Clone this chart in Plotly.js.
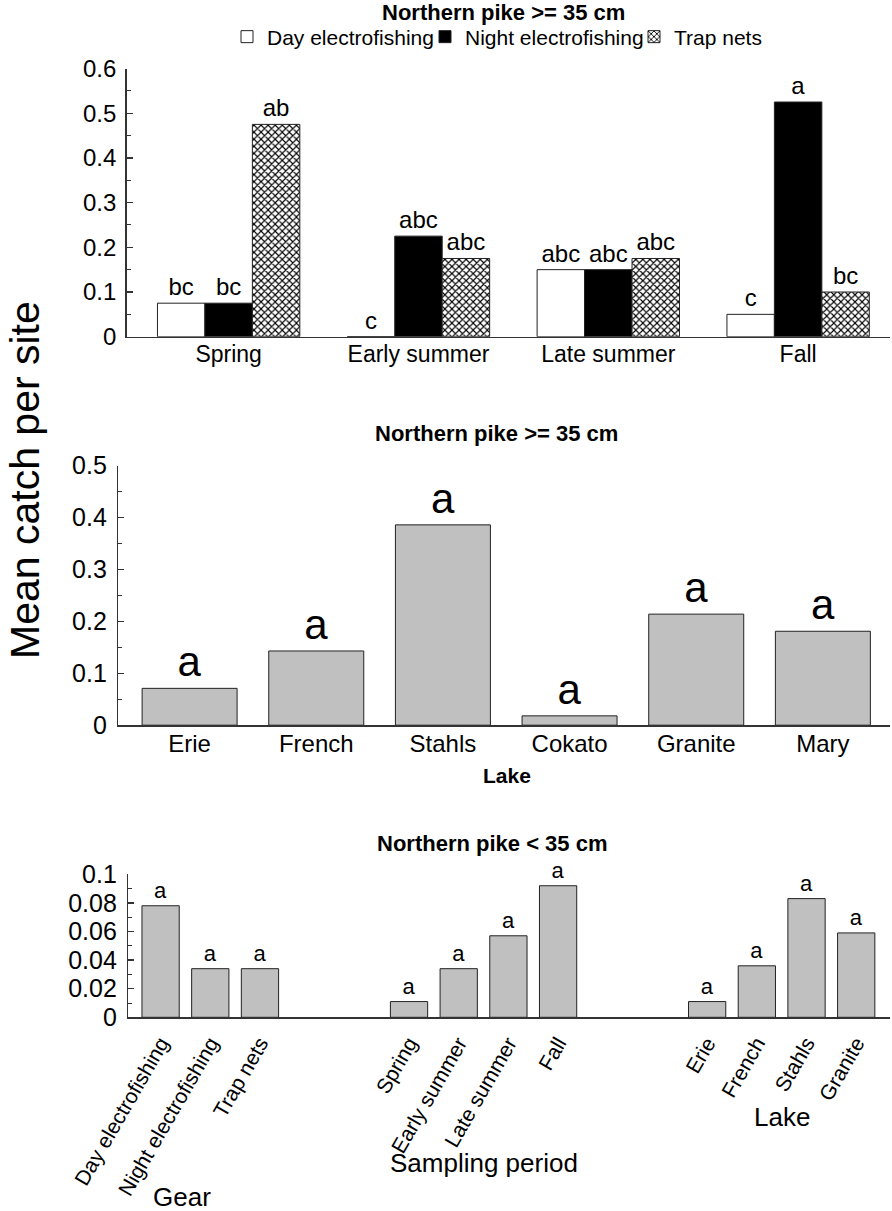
<!DOCTYPE html>
<html>
<head>
<meta charset="utf-8">
<script src="https://cdn.plot.ly/plotly-3.0.1.min.js"></script>
<style>
  html, body { margin: 0; padding: 0; background: #fff; }
  #chart { width: 892px; height: 1211px; }
</style>
</head>
<body>
<div id="chart"></div>
<script>
// Northern pike >= 35 cm: mean catch per site by sampling period and gear
const periods = ['Spring', 'Early summer', 'Late summer', 'Fall'];
const gearNames = ['Day electrofishing', 'Night electrofishing', 'Trap nets'];
const dayCatch = [0.075, 0, 0.15, 0.05];
const nightCatch = [0.075, 0.225, 0.15, 0.525];
const trapCatch = [0.475, 0.175, 0.175, 0.1];
const dayLetters = ['bc', 'c', 'abc', 'c'];
const nightLetters = ['bc', 'abc', 'abc', 'a'];
const trapLetters = ['ab', 'abc', 'abc', 'bc'];

// Northern pike >= 35 cm: mean catch per site by lake
const lakes = ['Erie', 'French', 'Stahls', 'Cokato', 'Granite', 'Mary'];
const lakeCatch = [0.071, 0.143, 0.386, 0.018, 0.214, 0.181];
const lakeLetters = ['a', 'a', 'a', 'a', 'a', 'a'];

// Northern pike < 35 cm: mean catch per site by gear, sampling period and lake
const smallGroupNames = ['Gear', 'Sampling period', 'Lake'];
const smallGear = ['Day electrofishing', 'Night electrofishing', 'Trap nets'];
const smallGearCatch = [0.078, 0.034, 0.034];
const smallPeriod = ['Spring', 'Early summer', 'Late summer', 'Fall'];
const smallPeriodCatch = [0.011, 0.034, 0.057, 0.092];
const smallLake = ['Erie', 'French', 'Stahls', 'Granite'];
const smallLakeCatch = [0.011, 0.036, 0.083, 0.059];
const smallLetters = ['a', 'a', 'a', 'a', 'a', 'a', 'a', 'a', 'a', 'a', 'a'];

const FONT = 'Liberation Sans, Arial, Helvetica, sans-serif';
const W = 892, H = 1211;
const px = v => v / W;            // horizontal pixel -> paper
const py = v => 1 - v / H;        // vertical pixel -> paper
const outline = { color: '#222', width: 1 };
const axisColor = '#333';

// lay the three small-fish groups out along one axis, two empty slots apart
const smallGroups = [[smallGear, smallGearCatch], [smallPeriod, smallPeriodCatch], [smallLake, smallLakeCatch]];
const smallPos = [], smallNames = [], smallVals = [], groupCentres = [];
let offset = 0;
smallGroups.forEach(([cats, vals]) => {
  cats.forEach((c, i) => { smallPos.push(offset + i); smallNames.push(c); smallVals.push(vals[i]); });
  groupCentres.push(offset + (cats.length - 1) / 2);
  offset += cats.length + 2;
});

const gearTrace = (name, y, letters, marker, legend) => ({
  type: 'bar', name, x: periods, y, text: letters,
  textposition: 'outside', cliponaxis: false, constraintext: 'none',
  textfont: { size: 24, color: '#000', family: FONT },
  marker, xaxis: 'x', yaxis: 'y', legend, hoverinfo: 'skip'
});

const data = [
  gearTrace(gearNames[0], dayCatch, dayLetters, { color: '#fff', line: outline }, 'legend'),
  gearTrace(gearNames[1], nightCatch, nightLetters, { color: '#000', line: outline }, 'legend2'),
  gearTrace(gearNames[2], trapCatch, trapLetters, {
    color: '#fff', line: outline,
    pattern: { shape: 'x', fgcolor: '#000', bgcolor: '#fff', size: 5, solidity: 0.4 }
  }, 'legend3'),
  {
    type: 'bar', x: lakes, y: lakeCatch, text: lakeLetters,
    textposition: 'outside', cliponaxis: false, constraintext: 'none',
    textfont: { size: 42, color: '#000', family: FONT },
    marker: { color: '#c0c0c0', line: outline },
    xaxis: 'x2', yaxis: 'y2', showlegend: false, hoverinfo: 'skip'
  },
  {
    type: 'bar', x: smallPos, y: smallVals, text: smallLetters,
    textposition: 'outside', cliponaxis: false, constraintext: 'none',
    textfont: { size: 22, color: '#000', family: FONT },
    marker: { color: '#c0c0c0', line: outline },
    xaxis: 'x3', yaxis: 'y3', showlegend: false, hoverinfo: 'skip'
  }
];

const baseX = {
  showline: true, linecolor: axisColor, linewidth: 1.5, ticks: '',
  showgrid: false, zeroline: false, fixedrange: true
};
const baseY = (dtick, minor, size) => ({
  showline: true, linecolor: axisColor, linewidth: 1.5,
  ticks: 'inside', ticklen: 6, tickwidth: 1.2, tickcolor: axisColor,
  minor: { dtick: minor, ticks: 'inside', ticklen: 4, tickwidth: 1, tickcolor: axisColor },
  dtick, tick0: 0, showgrid: false, zeroline: false, fixedrange: true,
  tickfont: { size, color: '#000', family: FONT }
});

const legendBase = {
  orientation: 'h', yanchor: 'middle', y: py(37), xanchor: 'left',
  font: { size: 21, color: '#000', family: FONT },
  bgcolor: 'rgba(0,0,0,0)', borderwidth: 0
};

const ann = (text, x, y, size, extra) => Object.assign({
  text, x, y, xref: 'paper', yref: 'paper', xanchor: 'center', yanchor: 'middle',
  showarrow: false, font: { size, color: '#000', family: FONT }
}, extra || {});

const layout = {
  width: W, height: H,
  margin: { l: 0, r: 0, t: 0, b: 0 },
  paper_bgcolor: '#fff', plot_bgcolor: 'rgba(0,0,0,0)',
  font: { family: FONT, color: '#000' },
  barmode: 'group', bargap: 0.25, bargroupgap: 0,
  showlegend: true,
  legend: Object.assign({}, legendBase, { x: px(227) }),
  legend2: Object.assign({}, legendBase, { x: px(425) }),
  legend3: Object.assign({}, legendBase, { x: px(634) }),

  xaxis: Object.assign({}, baseX, {
    domain: [px(126.7), px(890)], anchor: 'y', range: [-0.537, 3.484],
    tickfont: { size: 23, color: '#000', family: FONT }, ticklabelstandoff: -4
  }),
  yaxis: Object.assign(baseY(0.1, 0.05, 24), {
    domain: [py(336.7), py(68.5)], anchor: 'x', range: [0, 0.6], ticklabelstandoff: 4
  }),

  xaxis2: Object.assign({}, baseX, {
    domain: [px(118.3), px(890)], anchor: 'y2', range: [-0.563, 5.53],
    tickfont: { size: 24, color: '#000', family: FONT }, ticklabelstandoff: -4
  }),
  yaxis2: Object.assign(baseY(0.1, 0.05, 25), {
    domain: [py(725.2), py(465.7)], anchor: 'x2', range: [0, 0.5], ticklabelstandoff: 5
  }),

  xaxis3: Object.assign({}, baseX, {
    domain: [px(128.3), px(890)], anchor: 'y3', range: [-0.65, 14.68],
    tickmode: 'array', tickvals: smallPos, ticktext: smallNames, tickangle: -60,
    tickfont: { size: 21, color: '#000', family: FONT }, ticklabelstandoff: 4
  }),
  yaxis3: Object.assign(baseY(0.02, 0.01, 25), {
    domain: [py(1017.3), py(874.3)], anchor: 'x3', range: [0, 0.1], ticklabelstandoff: 5
  }),

  annotations: [
    ann('<b>Northern pike >= 35 cm</b>', px(503.5), py(13), 22),
    ann('<b>Northern pike >= 35 cm</b>', px(496.5), py(434), 22),
    ann('<b>Lake</b>', px(507), py(775), 21),
    ann('<b>Northern pike < 35 cm</b>', px(492), py(843.5), 22),
    ann('Mean catch per site', px(25), py(480), 41, { textangle: -90 }),
    ann(smallGroupNames[0], groupCentres[0], py(1197), 26, { xref: 'x3', xshift: -28 }),
    ann(smallGroupNames[1], groupCentres[1], py(1163), 26, { xref: 'x3' }),
    ann(smallGroupNames[2], groupCentres[2], py(1117), 26, { xref: 'x3' })
  ]
};

Plotly.newPlot('chart', data, layout, { staticPlot: true, displayModeBar: false });
</script>
</body>
</html>
